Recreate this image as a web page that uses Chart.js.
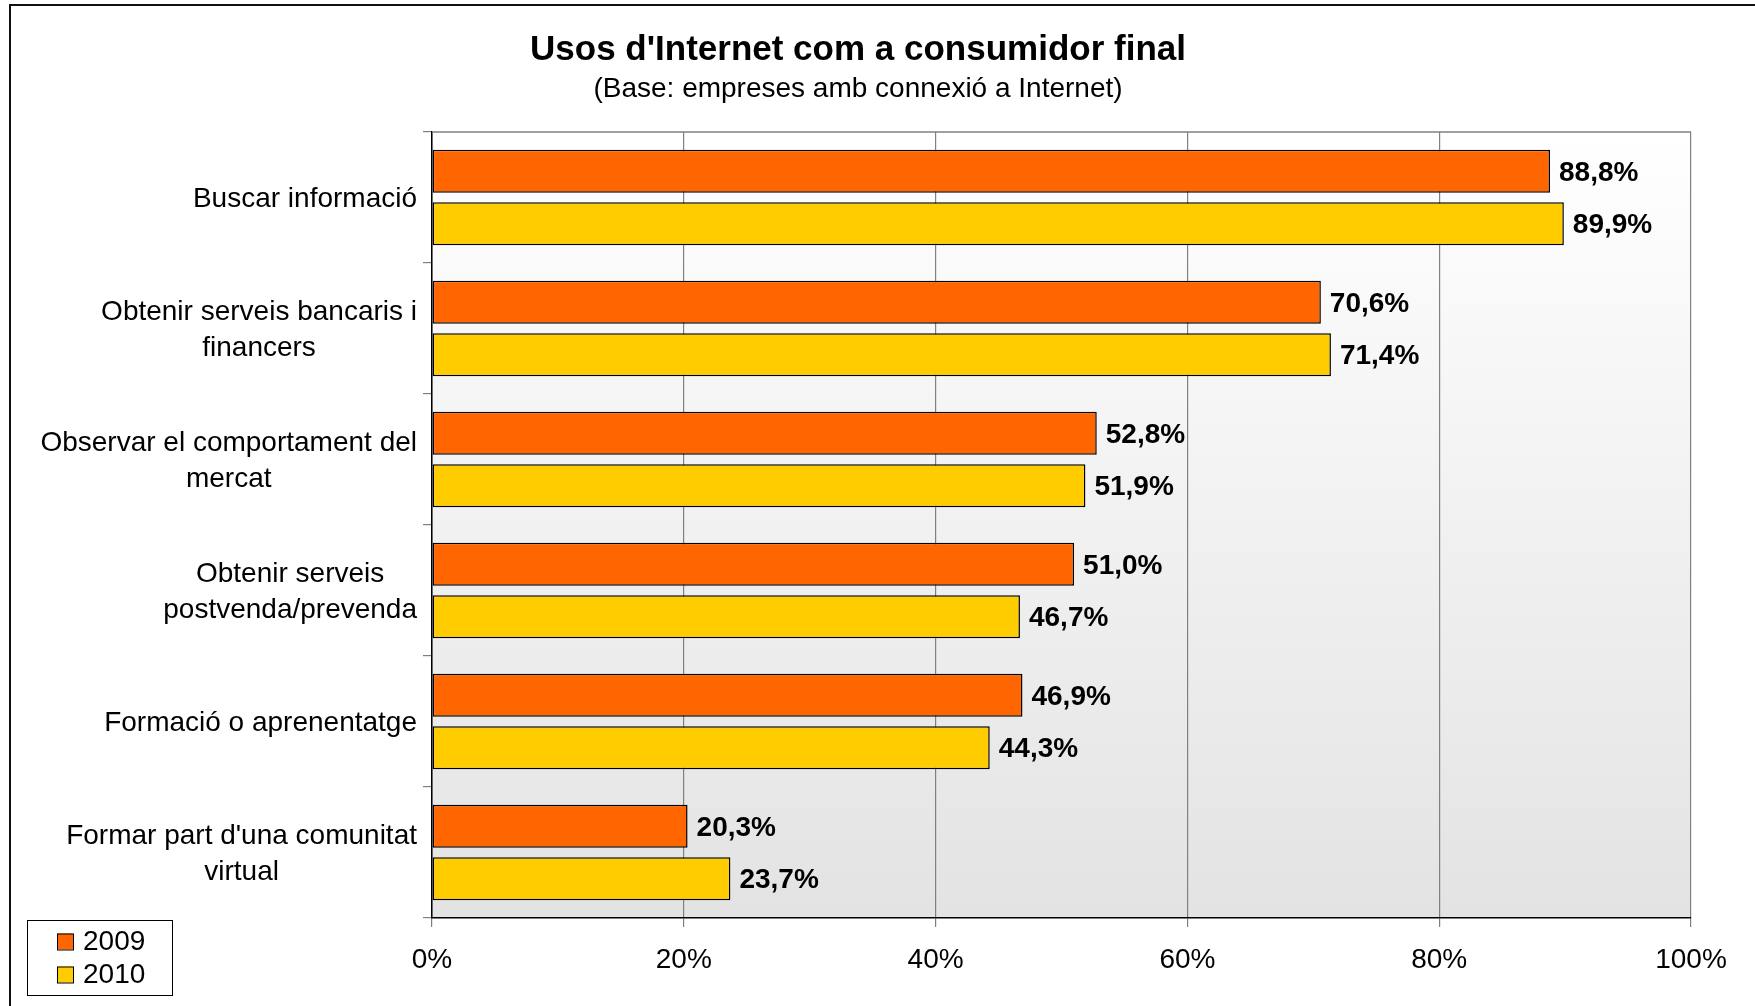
<!DOCTYPE html>
<html>
<head>
<meta charset="utf-8">
<script src="https://cdn.jsdelivr.net/npm/chart.js@4/dist/chart.umd.min.js"></script>
<style>
  html, body { margin: 0; padding: 0; background: #fff; }
  #wrap { position: relative; width: 1755px; height: 1006px; }
  #frame { position: absolute; left: 9px; top: 4px; width: 1800px; height: 1100px;
           border-left: 2px solid #111; border-top: 2px solid #111; pointer-events: none; }
</style>
</head>
<body>
<div id="wrap">
  <canvas id="usos-chart" width="1755" height="1006"></canvas>
  <div id="frame"></div>
</div>
<script>
// Dades
var categories = [
    ['Buscar informació'],
    ['Obtenir serveis bancaris i', 'financers'],
    ['Observar el comportament del', 'mercat'],
    ['Obtenir serveis', 'postvenda/prevenda'],
    ['Formació o aprenentatge'],
    ["Formar part d'una comunitat", 'virtual']
];
var valors2009 = [88.8, 70.6, 52.8, 51.0, 46.9, 20.3];
var valors2010 = [89.9, 71.4, 51.9, 46.7, 44.3, 23.7];
var xTicks = [0, 20, 40, 60, 80, 100];

var titol = "Usos d'Internet com a consumidor final";
var subtitol = '(Base: empreses amb connexió a Internet)';

var fontFam = '"Liberation Sans", Arial, sans-serif';

// fons degradat + titols + etiquetes + llegenda
var extres = {
    id: 'extres',
    beforeDraw: function (chart) {
        var ctx = chart.ctx, a = chart.chartArea;
        var g = ctx.createLinearGradient(0, a.top, 0, a.bottom);
        g.addColorStop(0, '#ffffff');
        g.addColorStop(1, '#e3e3e3');
        ctx.save();
        ctx.fillStyle = g;
        ctx.fillRect(a.left, a.top, a.right - a.left, a.bottom - a.top);
        ctx.restore();
    },
    afterDraw: function (chart) {
        var ctx = chart.ctx, a = chart.chartArea;
        ctx.save();
        // vora superior
        ctx.strokeStyle = '#808080';
        ctx.lineWidth = 1.5;
        ctx.beginPath();
        ctx.moveTo(a.left, a.top);
        ctx.lineTo(a.right, a.top);
        ctx.stroke();

        // titols
        ctx.fillStyle = '#000';
        ctx.textAlign = 'center';
        ctx.textBaseline = 'alphabetic';
        ctx.font = 'bold 35px ' + fontFam;
        ctx.fillText(titol, 858, 60);
        ctx.font = '28px ' + fontFam;
        ctx.fillText(subtitol, 858, 97);

        // etiquetes de categoria (linies centrades entre elles)
        var yScale = chart.scales.y;
        ctx.font = '28px ' + fontFam;
        ctx.textBaseline = 'middle';
        var dreta = a.left - 15;
        var lh = 36;
        categories.forEach(function (lines, i) {
            var yc = yScale.getPixelForTick(i) + 2;
            var w = 0;
            lines.forEach(function (l) { w = Math.max(w, ctx.measureText(l).width); });
            var xc = dreta - w / 2;
            var y0 = yc - (lines.length - 1) * lh / 2;
            lines.forEach(function (l, k) {
                ctx.fillText(l, xc, y0 + k * lh);
            });
        });

        // valors a les barres
        ctx.font = 'bold 28px ' + fontFam;
        ctx.textAlign = 'left';
        chart.data.datasets.forEach(function (ds, di) {
            var meta = chart.getDatasetMeta(di);
            meta.data.forEach(function (bar, i) {
                var txt = ds.data[i].toFixed(1).replace('.', ',') + '%';
                ctx.fillText(txt, bar.x + 9, bar.y + 2);
            });
        });

        // llegenda
        ctx.strokeStyle = '#000';
        ctx.lineWidth = 1;
        ctx.fillStyle = '#fff';
        ctx.fillRect(27, 920, 145, 75);
        ctx.strokeRect(27.5, 920.5, 145, 75);
        chart.data.datasets.forEach(function (ds, di) {
            var yc = 941.5 + di * 33;
            ctx.fillStyle = ds.backgroundColor;
            ctx.fillRect(57, yc - 8, 16, 16);
            ctx.strokeRect(57.5, yc - 7.5, 16, 16);
            ctx.fillStyle = '#000';
            ctx.font = '28px ' + fontFam;
            ctx.textBaseline = 'middle';
            ctx.fillText(ds.label, 83, yc + 1);
        });
        ctx.restore();
    }
};

var config = {
    type: 'bar',
    data: {
        labels: categories,
        datasets: [{
            label: '2009',
            data: valors2009,
            backgroundColor: '#ff6600',
            borderColor: '#000',
            borderWidth: 1.5,
            borderSkipped: false,
            categoryPercentage: 0.8,
            barPercentage: 0.82
        }, {
            label: '2010',
            data: valors2010,
            backgroundColor: '#ffcc00',
            borderColor: '#000',
            borderWidth: 1.5,
            borderSkipped: false,
            categoryPercentage: 0.8,
            barPercentage: 0.82
        }]
    },
    options: {
        indexAxis: 'y',
        responsive: false,
        animation: false,
        layout: { padding: { left: 0, right: 64, top: 132, bottom: 0 } },
        plugins: {
            legend: { display: false },
            title: { display: false },
            tooltip: { enabled: false }
        },
        scales: {
            x: {
                min: 0,
                max: 100,
                afterFit: function (s) { s.height = 88; },
                afterBuildTicks: function (s) {
                    s.ticks = xTicks.map(function (v) { return { value: v }; });
                },
                ticks: {
                    callback: function (v) { return v + '%'; },
                    color: '#000',
                    font: { family: fontFam, size: 28 },
                    padding: 16,
                    maxRotation: 0
                },
                grid: { color: '#808080', lineWidth: 1.2, tickLength: 9, tickColor: '#808080' },
                border: { color: '#000', width: 1.5 }
            },
            y: {
                afterFit: function (s) { s.width = 432; },
                ticks: { display: false },
                grid: {
                    offset: true,
                    drawOnChartArea: false,
                    tickLength: 9,
                    color: '#808080',
                    lineWidth: 1.2
                },
                border: { color: '#000', width: 1.5 }
            }
        }
    },
    plugins: [extres]
};

new Chart(document.getElementById('usos-chart').getContext('2d'), config);
</script>
</body>
</html>
